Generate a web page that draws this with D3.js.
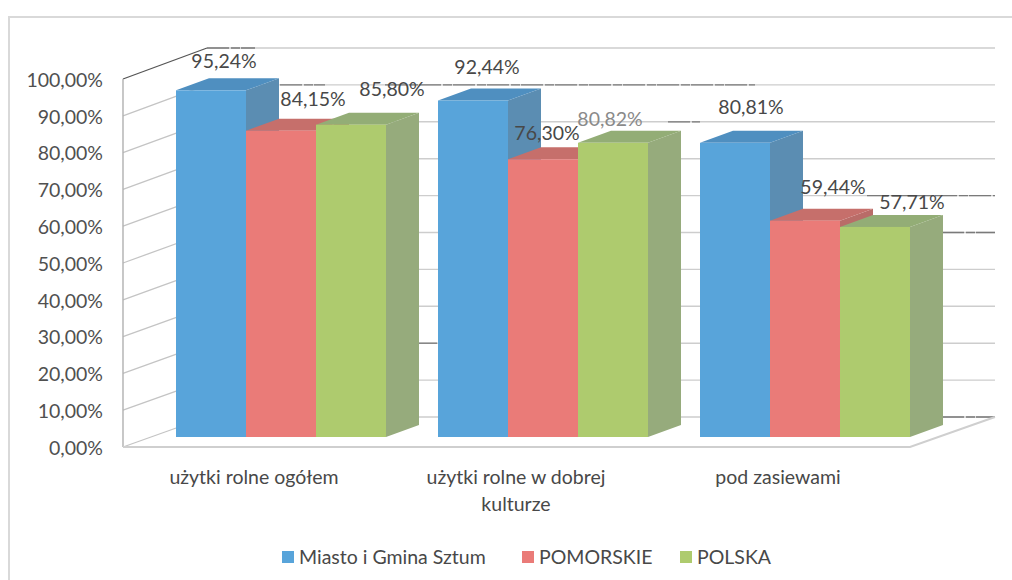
<!DOCTYPE html>
<html>
<head>
<meta charset="utf-8">
<script src="https://cdnjs.cloudflare.com/ajax/libs/d3/7.8.5/d3.min.js"></script>
<style>
  html, body { margin: 0; padding: 0; background: #fff; }
  svg { display: block; }
  text { font-family: Lato, "Open Sans", sans-serif; }
</style>
</head>
<body>
<svg width="1012" height="580"></svg>
<script>
const categories = ["użytki rolne ogółem", "użytki rolne w dobrej kulturze", "pod zasiewami"];
const seriesNames = ["Miasto i Gmina Sztum", "POMORSKIE", "POLSKA"];
const sztum = [95.24, 92.44, 80.81];
const pomorskie = [84.15, 76.30, 59.44];
const polska = [85.80, 80.82, 57.71];
const yTicks = [0, 10, 20, 30, 40, 50, 60, 70, 80, 90, 100];

const frontColors = ["#58a4da", "#ea7b78", "#aecb6e"];
const topColors = ["#4f8fc0", "#c66f6b", "#93ad76"];
const sideColors = ["#5b8db2", "#b96c68", "#96ab7c"];

// label nudges from the top of each bar, [category][series]
const labelShift = [
  [[13, -29], [32, -32], [41, -36]],
  [[14, -33], [4, -26], [-3, -24]],
  [[16, -36], [28, -33], [37, -25]]
];

// stretches of gridline that came out dark in the scan: [tick, from x, to x]
const darkGrid = [
  [100, 207, 255], [90, 280, 325], [90, 385, 755], [80, 668, 700],
  [60, 867, 995], [50, 942, 995], [20, 419, 437], [0, 942, 995]
];

const svg = d3.select("svg");
const pl = d3.formatLocale({ decimal: ",", thousands: " ", grouping: [3], currency: ["", ""] });
const fmt = v => pl.format(".2f")(v) + "%";

const yFront = d3.scaleLinear().domain([0, 100]).range([447, 79]);
const yBack = d3.scaleLinear().domain([0, 100]).range([417, 48]);
const yBar = d3.scaleLinear().domain([0, 100]).range([437, 73]);

const x0 = d3.scaleBand().domain(categories).range([123, 909]);
const x1 = d3.scaleBand().domain(seriesNames).range([53, 263]);

const wallDx = 84, barDx = 33, barDy = 12;
const wallLeft = 123 + wallDx, wallRight = 995;

// frame
svg.append("path")
  .attr("d", "M9,580V17H1012")
  .attr("fill", "none")
  .attr("stroke", "#d9d9d9")
  .attr("stroke-width", 2);

// back wall and left wall lines
svg.append("g").selectAll("line")
  .data(yTicks)
  .enter()
  .append("line")
  .attr("x1", wallLeft)
  .attr("x2", wallRight)
  .attr("y1", d => yBack(d))
  .attr("y2", d => yBack(d))
  .attr("stroke", "#cdcdcd")
  .attr("stroke-width", 1.4);

svg.append("g").selectAll("line")
  .data(darkGrid)
  .enter()
  .append("line")
  .attr("x1", d => d[1])
  .attr("x2", d => d[2])
  .attr("y1", d => yBack(d[0]))
  .attr("y2", d => yBack(d[0]))
  .attr("stroke", "#7a7a7a")
  .attr("stroke-width", 1.3)
  .attr("stroke-dasharray", "22 2 9 1");

svg.append("g").selectAll("line")
  .data(yTicks)
  .enter()
  .append("line")
  .attr("x1", 123)
  .attr("x2", wallLeft)
  .attr("y1", d => yFront(d))
  .attr("y2", d => yBack(d))
  .attr("stroke", d => d === 100 ? "#555" : "#c4c4c4")
  .attr("stroke-width", 1.3);

svg.append("line")
  .attr("x1", 123).attr("x2", 123)
  .attr("y1", yFront(0)).attr("y2", yFront(100))
  .attr("stroke", "#b0b0b0")
  .attr("stroke-width", 1.4);

// floor edges
svg.append("path")
  .attr("d", "M123," + yFront(0) + "H910L" + wallRight + "," + yBack(0))
  .attr("fill", "none")
  .attr("stroke", "#cfcfcf")
  .attr("stroke-width", 2);

// bars
const seriesValues = [sztum, pomorskie, polska];
const bars = svg.append("g");
categories.forEach(function(cat, c) {
  seriesNames.forEach(function(name, s) {
    const v = seriesValues[s][c];
    const x = x0(cat) + x1(name);
    const w = x1.bandwidth();
    const yt = yBar(v);
    const yb = yBar(0);
    bars.append("polygon")
      .attr("points", [[x + w, yt], [x + w + barDx, yt - barDy], [x + w + barDx, yb - barDy], [x + w, yb]].join(" "))
      .attr("fill", sideColors[s]);
    bars.append("polygon")
      .attr("points", [[x, yt], [x + barDx, yt - barDy], [x + w + barDx, yt - barDy], [x + w, yt]].join(" "))
      .attr("fill", topColors[s]);
    bars.append("rect")
      .attr("x", x)
      .attr("y", yt)
      .attr("width", w)
      .attr("height", yb - yt)
      .attr("fill", frontColors[s]);
  });
});

// data labels
categories.forEach(function(cat, c) {
  seriesNames.forEach(function(name, s) {
    const v = seriesValues[s][c];
    const faded = c === 1 && s === 2;
    svg.append("text")
      .attr("x", x0(cat) + x1(name) + x1.bandwidth() / 2 + labelShift[c][s][0])
      .attr("y", yBar(v) + labelShift[c][s][1])
      .attr("dy", "0.35em")
      .attr("text-anchor", "middle")
      .attr("font-size", "19.5px")
      .attr("fill", faded ? "#8a8a8a" : "#484848")
      .text(fmt(v));
  });
});

// y axis
const yAxis = d3.axisLeft(yFront).tickValues(yTicks).tickSize(0).tickPadding(0).tickFormat(fmt);
const yG = svg.append("g")
  .attr("transform", "translate(103,1)")
  .call(yAxis);
yG.select(".domain").remove();
yG.selectAll("text")
  .attr("font-size", "19.5px")
  .attr("fill", "#505050");

// category labels, wrapped by hand like the original
const catLines = [["użytki rolne ogółem"], ["użytki rolne w dobrej", "kulturze"], ["pod zasiewami"]];
categories.forEach(function(cat, c) {
  const t = svg.append("text")
    .attr("text-anchor", "middle")
    .attr("font-size", "19.5px")
    .attr("fill", "#484848");
  catLines[c].forEach(function(line, i) {
    t.append("tspan")
      .attr("x", x0(cat) + x0.bandwidth() / 2)
      .attr("y", 484 + i * 27)
      .text(line);
  });
});

// legend
const legendX = [282, 522, 680];
seriesNames.forEach(function(name, s) {
  svg.append("rect")
    .attr("x", legendX[s])
    .attr("y", 551)
    .attr("width", 12)
    .attr("height", 12)
    .attr("fill", frontColors[s]);
  svg.append("text")
    .attr("x", legendX[s] + 17)
    .attr("y", 564)
    .attr("font-size", "19.5px")
    .attr("fill", "#484848")
    .text(name);
});
</script>
</body>
</html>
